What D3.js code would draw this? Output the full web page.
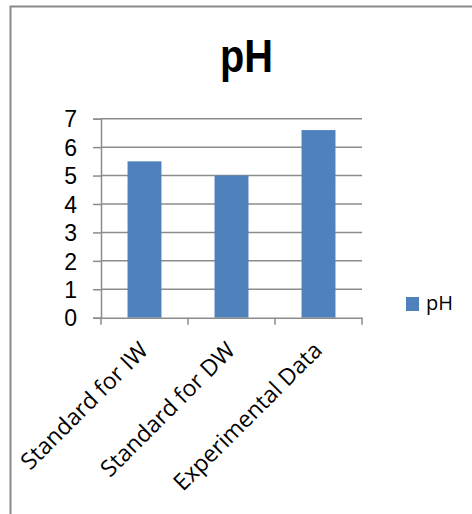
<!DOCTYPE html>
<html><head><meta charset="utf-8">
<script src="https://cdn.jsdelivr.net/npm/d3@7"></script>
<style>body{margin:0;background:#fff}svg{display:block}</style>
</head><body>
<script>
const categories = ["Standard for IW", "Standard for DW", "Experimental Data"];
const values = [5.5, 5.0, 6.6];
const yTicks = [0, 1, 2, 3, 4, 5, 6, 7];
const seriesName = "pH";
const titleText = "pH";

(function () {
const W = 472, H = 514;
const svg = d3.select("body").append("svg").attr("width", W).attr("height", H);
const font = "'Open Sans', 'Liberation Sans', Arial, sans-serif";
const tickFont = "'Liberation Sans', Arial, sans-serif";
const grid = "#8c8c8c";

// frame
svg.append("path").attr("d", "M10.5,514 V6.5 H472").attr("fill", "none")
  .attr("stroke", "#8a8a8a").attr("stroke-width", 2);

const pLeft = 101, pRight = 362, pTop = 118.7, pBottom = 317.7;
const x = d3.scaleBand().domain(categories).range([pLeft, pRight]).padding(0);
const y = d3.scaleLinear().domain([0, 7]).range([pBottom, pTop]);

// gridlines
svg.append("g").selectAll("line").data(yTicks.filter(d => d > 0)).join("line")
  .attr("x1", pLeft).attr("x2", pRight)
  .attr("y1", d => y(d)).attr("y2", d => y(d))
  .attr("stroke", grid).attr("stroke-width", 1.5);

// y axis
const yAxis = svg.append("g").attr("transform", `translate(${pLeft},0)`)
  .call(d3.axisLeft(y).tickValues(yTicks).tickFormat(d3.format("d")).tickSize(8).tickPadding(16));
yAxis.select(".domain").attr("stroke", grid).attr("stroke-width", 1.5);
yAxis.selectAll(".tick line").attr("stroke", grid).attr("stroke-width", 1.5);
yAxis.selectAll(".tick text").attr("font-family", tickFont).attr("font-size", 23)
  .attr("fill", "#000").attr("dy", "0.36em");

// bars
const bw = x.bandwidth() * 0.39;
svg.append("g").selectAll("rect").data(values).join("rect")
  .attr("x", (d, i) => x(categories[i]) + x.bandwidth() / 2 - bw / 2)
  .attr("width", bw)
  .attr("y", d => y(d))
  .attr("height", d => y(0) - y(d))
  .attr("fill", "#4f81bd");

// x axis
const xAxis = svg.append("g").attr("transform", `translate(0,${pBottom})`)
  .call(d3.axisBottom(x).tickSize(0).tickFormat(""));
xAxis.select(".domain").attr("stroke", grid).attr("stroke-width", 1.5);
const bounds = [pLeft].concat(categories.map(c => x(c) + x.bandwidth()));
svg.append("g").selectAll("line").data(bounds).join("line")
  .attr("x1", d => d).attr("x2", d => d).attr("y1", pBottom).attr("y2", pBottom + 7)
  .attr("stroke", grid).attr("stroke-width", 1.5);

// x labels
svg.append("g").selectAll("text").data(categories).join("text")
  .attr("transform", d => `translate(${x(d) + x.bandwidth() / 2 + 5},${pBottom + 34}) rotate(-45)`)
  .attr("text-anchor", "end")
  .attr("font-family", font).attr("font-size", 23).attr("fill", "#000")
  .text(d => d);

// title
svg.append("text").attr("x", 246.5).attr("y", 72).attr("text-anchor", "middle")
  .attr("font-family", "'Liberation Sans', Arial, sans-serif").attr("font-weight", "bold").attr("font-size", 46)
  .attr("textLength", 53).attr("lengthAdjust", "spacingAndGlyphs")
  .text(titleText);

// legend
svg.append("rect").attr("x", 406).attr("y", 297).attr("width", 13).attr("height", 14).attr("fill", "#4f81bd");
svg.append("text").attr("x", 426).attr("y", 309.5).attr("font-family", font).attr("font-size", 20)
  .attr("fill", "#000").text(seriesName);
})();
</script>
</body></html>
